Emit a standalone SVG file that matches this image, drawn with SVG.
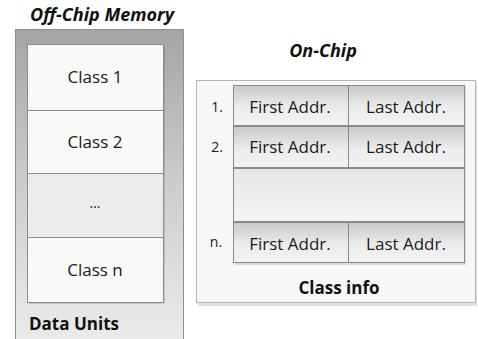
<svg xmlns="http://www.w3.org/2000/svg" width="478" height="339" viewBox="0 0 478 339">
<defs>
<linearGradient id="outerG" x1="0" y1="0" x2="0" y2="1">
<stop offset="0" stop-color="#a4a4a4"/>
<stop offset="0.5" stop-color="#cdcdcd"/>
<stop offset="1" stop-color="#ebebeb"/>
</linearGradient>
<linearGradient id="cellG" x1="0" y1="0" x2="0" y2="1">
<stop offset="0" stop-color="#c9c9c9"/>
<stop offset="0.55" stop-color="#ececec"/>
<stop offset="1" stop-color="#f2f2f2"/>
</linearGradient>
<linearGradient id="emptyG" x1="0" y1="0" x2="0" y2="1">
<stop offset="0" stop-color="#e6e6e6"/>
<stop offset="1" stop-color="#f4f4f4"/>
</linearGradient>
</defs>
<style>
.t{font-family:"Open Sans","Liberation Sans",sans-serif;font-size:17px;fill:#1a1a1a;text-anchor:middle}
.n{font-family:"Open Sans","Liberation Sans",sans-serif;font-size:14px;fill:#1a1a1a;text-anchor:middle}
.h{font-family:"Open Sans","Liberation Sans",sans-serif;font-size:17px;font-weight:bold;fill:#111}
.hi{font-family:"Open Sans","Liberation Sans",sans-serif;font-size:18px;font-weight:bold;font-style:italic;fill:#111}
.row{fill:#f9f9f9;stroke:#8c8c8c;stroke-width:1}
.cell{fill:url(#cellG);stroke:#8a8a8a;stroke-width:1}
.shadow{fill:#000;opacity:0.12}
</style>
<rect width="478" height="339" fill="#ffffff"/>

<g id="off-chip">
<text class="hi" x="30" y="21">Off-Chip Memory</text>
<rect x="15.5" y="29.5" width="168" height="312" fill="url(#outerG)" stroke="#8e8e8e"/>
<rect x="29" y="46" width="136" height="258" class="shadow"/>
<g id="class1"><rect class="row" x="27.5" y="44.5" width="136" height="66"/><text class="t" x="95" y="83">Class 1</text></g>
<g id="class2"><rect class="row" x="27.5" y="110.5" width="136" height="63"/><text class="t" x="95" y="148">Class 2</text></g>
<g id="dots"><rect class="row" x="27.5" y="173.5" width="136" height="64" style="fill:#ececec"/><text class="t" x="95" y="208" style="font-size:14px">…</text></g>
<g id="classn"><rect class="row" x="27.5" y="237.5" width="136" height="65"/><text class="t" x="95" y="276">Class n</text></g>
<text class="h" x="29" y="330">Data Units</text>
</g>

<g id="on-chip">
<text class="hi" x="323" y="57" text-anchor="middle">On-Chip</text>
<rect x="198" y="82" width="279" height="224" class="shadow"/>
<rect x="196.5" y="80.5" width="279" height="222" fill="#f7f7f7" stroke="#b4b4b4"/>
<rect x="235" y="87" width="231" height="178" class="shadow"/>
<g id="row1">
<text class="n" x="217" y="112">1.</text>
<rect class="cell" x="233.5" y="85.5" width="115" height="40"/>
<rect class="cell" x="348.5" y="85.5" width="116" height="40"/>
<text class="t" x="290" y="113">First Addr.</text>
<text class="t" x="406" y="113">Last Addr.</text>
</g>
<g id="row2">
<text class="n" x="217" y="152">2.</text>
<rect class="cell" x="233.5" y="126.5" width="115" height="41"/>
<rect class="cell" x="348.5" y="126.5" width="116" height="41"/>
<text class="t" x="290" y="153">First Addr.</text>
<text class="t" x="406" y="153">Last Addr.</text>
</g>
<g id="row-empty">
<rect x="233.5" y="168.5" width="231" height="53" fill="url(#emptyG)" stroke="#8a8a8a"/>
</g>
<g id="rown">
<text class="n" x="216" y="247">n.</text>
<rect class="cell" x="233.5" y="222.5" width="115" height="40"/>
<rect class="cell" x="348.5" y="222.5" width="116" height="40"/>
<text class="t" x="290" y="250">First Addr.</text>
<text class="t" x="406" y="250">Last Addr.</text>
</g>
<text class="h" x="339" y="294" text-anchor="middle">Class info</text>
</g>
<g id="connectors"/>
</svg>
